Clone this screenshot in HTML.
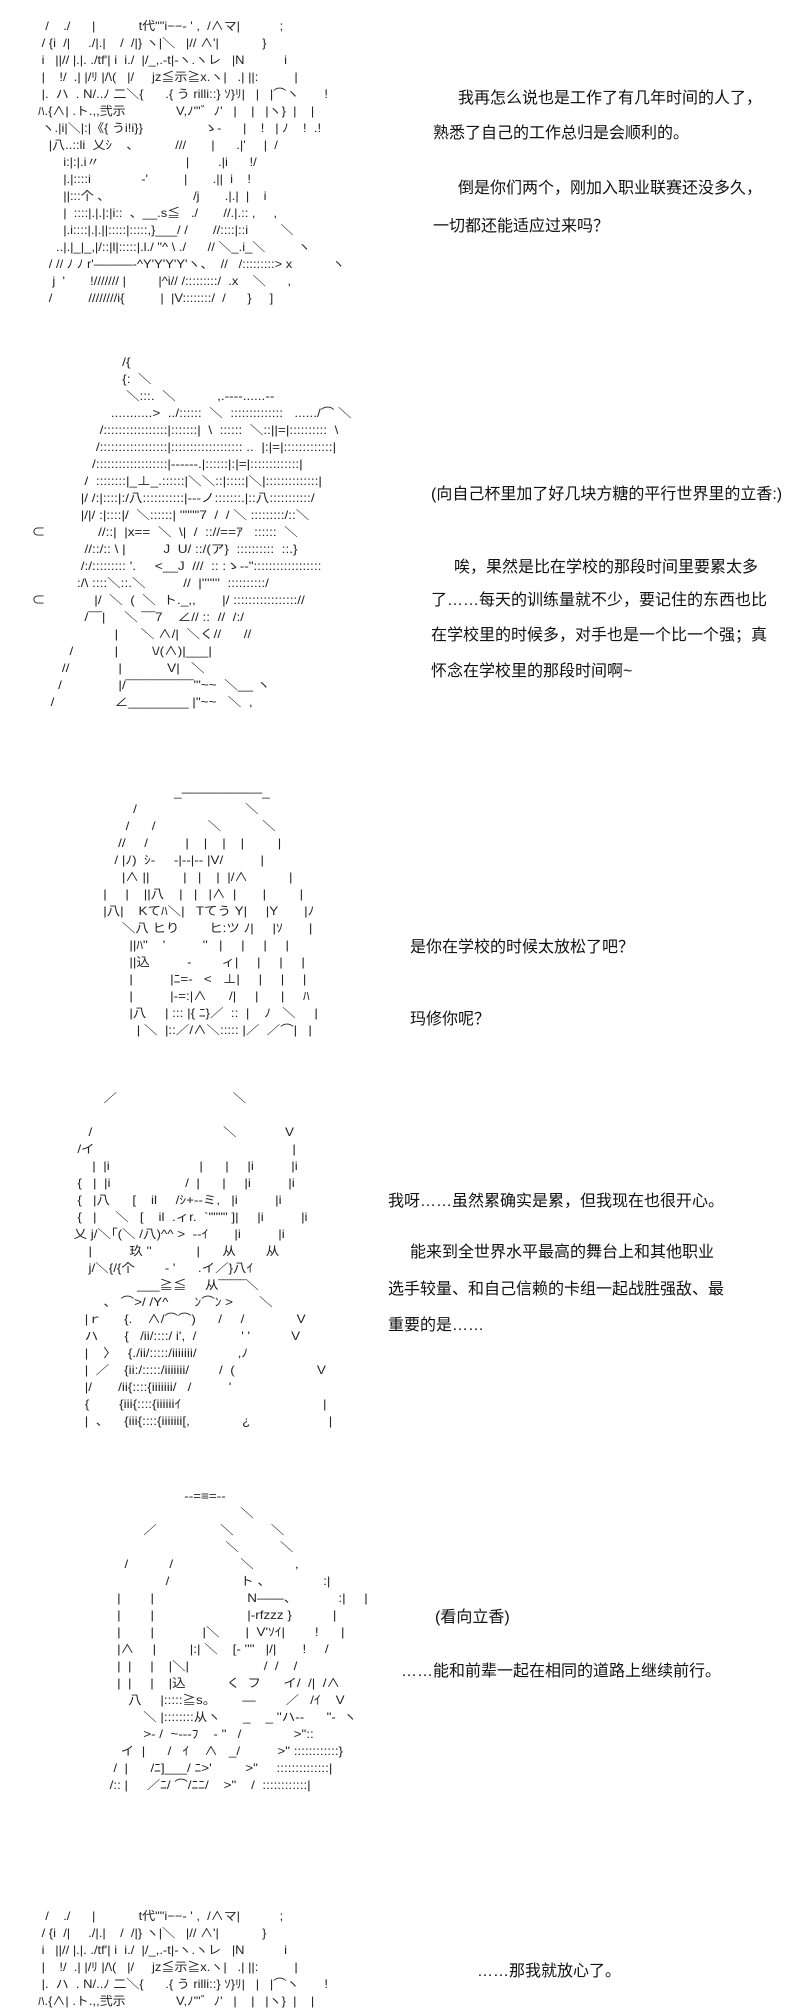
<!DOCTYPE html>
<html><head><meta charset="utf-8">
<style>
html,body{margin:0;padding:0;background:#fff;}
body{width:800px;height:2000px;position:relative;overflow:hidden;}
pre.aa{position:absolute;margin:0;font-family:"Liberation Sans","Noto Sans CJK JP",sans-serif;font-size:12px;line-height:17px;color:#222;white-space:pre;transform-origin:0 0;}
.t{position:absolute;font-family:"Liberation Sans","Noto Sans CJK SC",sans-serif;font-size:16px;color:#111;white-space:nowrap;}
</style></head><body>

<pre class="aa" style="left:38px;top:18px;transform:scaleX(1.08);">  /    ./      |            t代""i−−‐ ' ,  /∧マ|           ;
 / {i  /|     ./|.|    /  /|} ヽ|＼   |// ∧'|            }
 i   ||// |.|. ./tf'| i  i./  |/_,.-t|-ヽ.ヽレ   |N           i
 |    !/  .| |/ﾘ |/\(   |/     jz≦示≧x.ヽ|   .| ||:          |
 |.  ハ  . N/..ﾉ 二＼{      .{ う rilli::} ｿ}ﾘ|   |   |⌒ヽ       !
ﾊ.{∧| .ト.,,弐示              V,ﾉ'"゛ﾉ'   |    |   |ヽ}  |    |
 ヽ.|i|＼|:|《{ うi!i}}                 ゝ-      |    !   | ﾉ    !  .!
   |八..::li  乂ｼ    、          ///       |      .|'     |  /
       i:|:|.i〃                        |        .|i      !/
       |.|::::i              -'          |       .||  i    !
       ||:::个 、                       /j       .|.|  |    i
       |  ::::|.|.|:|i::  、__.s≦   ./       //.|.:: ,     ,
       |.i::::|.|.||:::::|:::::,}___/ /       //::::|::i         ＼
     ..|.|_|_,|/::|l|:::::|.l./ "^ \ ./      // ＼_.i_＼         ヽ
   / // ﾉ ﾉ r'———-^Y'Y'Y'Y'ヽ、  //   /:::::::::> x           ヽ
    j  '       !/////// |         |^i// /:::::::::/  .x    ＼      ,
   /          ////////i{          |  |V::::::::/  /      }     ]</pre>

<div class="t" style="left:458px;top:84px;">我再怎么说也是工作了有几年时间的人了，</div>
<div class="t" style="left:433px;top:119px;">熟悉了自己的工作总归是会顺利的。</div>
<div class="t" style="left:458px;top:174px;">倒是你们两个，刚加入职业联赛还没多久，</div>
<div class="t" style="left:433px;top:212px;">一切都还能适应过来吗？</div>

<pre class="aa" style="left:28px;top:354px;transform:scaleX(1.13);">                         /{
                         {:  ＼
                          ＼:::.  ＼           ,.----......--
                      ...........>  ../::::::  ＼  ::::::::::::::   ....../⌒ ＼
                   /:::::::::::::::::|:::::::|  \  ::::::  ＼::||=|::::::::::  \
                  /::::::::::::::::::|::::::::::::::::::: ..  |:|=|:::::::::::::|
                 /:::::::::::::::::::|------.|::::::|:|=|:::::::::::::|
               /  ::::::::|_⊥_.::::::|＼＼::|:::::|＼|::::::::::::::|
              |/ /:|::::|:/八:::::::::::|‐‐‐ノ:::::::.|::八:::::::::::/
              |/|/ :|::::|/  ＼::::::| ''"""7  /  / ＼ :::::::::/::＼
 ⊂              //::|  |x==  ＼  \|  /  :://==ｱ   ::::::  ＼
               //::/:: \ |          J  U/ ::/(ア}  ::::::::::  ::.}
              /:/::::::::: '.     <__J  ///  :: :ゝ-‐"::::::::::::::::::
             :/\ ::::＼::.＼          //  |'''''''  ::::::::::/
 ⊂             |/  ＼  (  ＼  ト._,,       |/ ::::::::::::::::://
               /‾‾‾|     ＼ ‾‾‾7    ∠// ::  //  /:/
                       |      ＼ ∧/|  ＼く//      //
           /           |         \/(∧)|___|
         //             |            V|   ＼
        /               |/‾‾‾‾‾‾‾‾‾‾‾‾‾‾‾'"~~  ＼__ ヽ
      /                ∠________ |"~~   ＼  ,</pre>

<div class="t" style="left:431px;top:480px;">(向自己杯里加了好几块方糖的平行世界里的立香:)</div>
<div class="t" style="left:454px;top:553px;">唉，果然是比在学校的那段时间里要累太多</div>
<div class="t" style="left:431px;top:586px;">了……每天的训练量就不少，要记住的东西也比</div>
<div class="t" style="left:431px;top:621px;">在学校里的时候多，对手也是一个比一个强；真</div>
<div class="t" style="left:431px;top:657px;">怀念在学校里的那段时间啊~</div>

<pre class="aa" style="left:92px;top:784px;transform:scaleX(1.12);">                      _——————_
           /                             ＼
         /      /              ＼           ＼
       //     /          |    |    |    |         |
      / |ﾉ)  ｼ‐     ‐|‐‐|‐‐ |V/          |
        |∧ ||         |   |    |  |/∧           |
   |     |    ||八    |   |   |∧  |       |         |
   |八|    Kてﾊ＼|   Tてう Y|     |Y       |ﾉ
        ＼八 ヒり        ヒ:ツ ﾉ|     |ｿ       |
          ||ﾊ"    '          ''   |     |     |     |
          ||込          ‐        ィ|     |     |     |
          |          |ﾆ=‐   <   ⊥|     |     |     |
          |          |‐=:|∧      /|     |      |     ﾊ
          |八     | ::: |{ ﾆ}／  ::  |    ﾉ   ＼     |
            | ＼  |::／/∧＼::::: |／  ／⌒|   |</pre>

<div class="t" style="left:410px;top:933px;">是你在学校的时候太放松了吧？</div>
<div class="t" style="left:410px;top:1005px;">玛修你呢？</div>

<pre class="aa" style="left:40px;top:1090px;transform:scaleX(1.12);">                 ／                               ＼
 
             /                                   ＼             V
          /イ                                                     |
              |  |i                        |      |     |i          |i
          {   |  |i                    /  |      |     |i          |i
          {   |八      [    il     /ｼ+‐‐ミ,   |i          |i
          {   |     ＼   [    il  .ィr.  `"""" ]|     |i          |i
         乂 j/＼｢(＼ /八)^^ >  ‐‐ｲ       |i          |i
             |          玖 ''            |      从        从
             j/＼{/{个        ‐ '      .イ／}八ｲ
                          ___≧≦     从‾‾‾‾‾‾＼
                 、 ⌒>/ /Y^       ﾝ⌒ﾝ >       ＼
            |ｒ      {.    ∧/⌒⌒)      /     /              V
            ハ       {   /ii/::::/ i',  /            ' '           V
            |    〉   {./ii/:::::/iiiiiii/           ,ﾉ
            |  ／    {ii:/:::::/iiiiiii/        /  (                      V
            |/       /ii{::::{iiiiiii/   /          '
            {        {iii{::::{iiiiiiｲ                                      |
            |  、    {iii{::::{iiiiiii[,              ¿                     |</pre>

<div class="t" style="left:388px;top:1187px;">我呀……虽然累确实是累，但我现在也很开心。</div>
<div class="t" style="left:410px;top:1238px;">能来到全世界水平最高的舞台上和其他职业</div>
<div class="t" style="left:388px;top:1275px;">选手较量、和自己信赖的卡组一起战胜强敌、最</div>
<div class="t" style="left:388px;top:1311px;">重要的是……</div>

<pre class="aa" style="left:76px;top:1488px;transform:scaleX(1.12);">                             ‐‐=≡=‐‐
                                            ＼
                  ／                 ＼          ＼
                                        ＼           ＼
             /           /                  ＼           ,
                        /                   ト 、              :|
           |        |                         N——、           :|     |
           |        |                         |‐rfzzz }           |
           |        |             |＼       |  V'ｿｲ|        !      |
           |∧     |         |:| ＼    [‐ ''"   |/|       !     /
           |  |     |    |＼|                    /  /    /
           |  |     |    |込           く  フ      イ/  /|  /∧
              八     |:::::≧s。       ―        ／   /ｲ    V
                  ＼ |::::::::从ヽ      _    _ ''ハ‐‐      "‐  ヽ
                  >‐ /  ~‐‐‐ﾌ    ‐ "   /              >"::
            イ  |      /   ｲ    ∧   _/          >" ::::::::::::}
          /  |      /ﾆ]___/ ﾆ>'         >"     ::::::::::::::|
         /:: |     ／ﾆ/ ⌒/ﾆﾆ/    >"    /  ::::::::::::|</pre>

<div class="t" style="left:435px;top:1603px;">(看向立香)</div>
<div class="t" style="left:401px;top:1657px;">……能和前辈一起在相同的道路上继续前行。</div>

<pre class="aa" style="left:38px;top:1908px;transform:scaleX(1.08);">  /    ./      |            t代""i−−‐ ' ,  /∧マ|           ;
 / {i  /|     ./|.|    /  /|} ヽ|＼   |// ∧'|            }
 i   ||// |.|. ./tf'| i  i./  |/_,.-t|-ヽ.ヽレ   |N           i
 |    !/  .| |/ﾘ |/\(   |/     jz≦示≧x.ヽ|   .| ||:          |
 |.  ハ  . N/..ﾉ 二＼{      .{ う rilli::} ｿ}ﾘ|   |   |⌒ヽ       !
ﾊ.{∧| .ト.,,弐示              V,ﾉ'"゛ﾉ'   |    |   |ヽ}  |    |</pre>

<div class="t" style="left:477px;top:1957px;">……那我就放心了。</div>

</body></html>
